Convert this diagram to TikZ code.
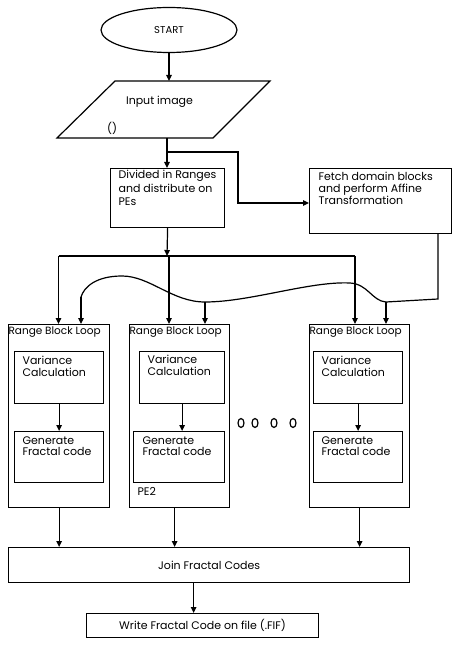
\documentclass[tikz,border=0pt]{standalone}
\usepackage{fontspec}
\setmainfont{Poppins}
\usetikzlibrary{shapes.geometric,arrows.meta}

\tikzset{
  block/.style={draw, anchor=north west, inner sep=0pt},
  intext/.style={anchor=north west, align=left, inner sep=0pt},
  looptitle/.style={anchor=north west, inner sep=0pt, font=\fontsize{10.5}{12}\selectfont},
  arr/.style={-{Triangle[length=6pt,width=5.5pt]}},
  dot/.style={draw, ellipse, minimum width=6pt, minimum height=9pt, inner sep=0pt},
}

\begin{document}
\begin{tikzpicture}[x=1pt, y=-1pt, font=\fontsize{11}{12}\selectfont, line width=1.2pt]
  \useasboundingbox (0,0) rectangle (458,647);

  \node[draw, ellipse, minimum width=136pt, minimum height=45pt, inner sep=0pt, font=\fontsize{10}{12}\selectfont] (start) at (169,30) {START};

  % parallelogramme
  \coordinate (inputtop) at (168,81);
  \coordinate (inputbot) at (167,138);
  \draw (57,138) -- (115,81) -- (270,81) -- (213,138) -- cycle;
  \node[inner sep=0pt] (inputtxt) at (159.5,102) {Input image};
  \node[inner sep=0pt] (inputarg) at (112,128) {()};

  \node[block, minimum width=114pt, minimum height=59pt] (divide) at (110,168) {};
  \node[intext, font=\fontsize{11}{13.5}\selectfont] (dividetxt) at ([shift={(8,2)}]divide.north west) {Divided in Ranges\\and distribute on\\PEs};
  \node[block, minimum width=142pt, minimum height=65pt] (fetch) at (309,168) {};
  \node[intext] (fetchtxt) at ([shift={(9,4)}]fetch.north west) {Fetch domain blocks\\and perform Affine\\Transformation};

  % boucles de blocs
  \node[block, minimum width=101pt, minimum height=183pt] (range1) at (8,324) {};
  \node[block, minimum width=100pt, minimum height=183pt] (range2) at (129,324) {};
  \node[block, minimum width=100pt, minimum height=183pt] (range3) at (309,324) {};
  \node[looptitle] (title1) at ([shift={(0,2)}]range1.north west) {Range Block Loop};
  \node[looptitle] (title2) at ([shift={(0,2)}]range2.north west) {Range Block Loop};
  \node[looptitle] (title3) at ([shift={(0,2)}]range3.north west) {Range Block Loop};

  \node[block, minimum width=89pt, minimum height=52pt] (var1) at (14,351) {};
  \node[block, minimum width=85pt, minimum height=52pt] (var2) at (139,351) {};
  \node[block, minimum width=89pt, minimum height=52pt] (var3) at (313,351) {};
  \node[intext] (vartxt1) at ([shift={(8,5)}]var1.north west) {Variance\\Calculation};
  \node[intext] (vartxt2) at ([shift={(8,4)}]var2.north west) {Variance\\Calculation};
  \node[intext] (vartxt3) at ([shift={(8,5)}]var3.north west) {Variance\\Calculation};

  \node[block, minimum width=89pt, minimum height=51pt] (gen1) at (14,431) {};
  \node[block, minimum width=91pt, minimum height=51pt] (gen2) at (133,431) {};
  \node[block, minimum width=89pt, minimum height=51pt] (gen3) at (313,431) {};
  \node[intext, font=\fontsize{11}{11}\selectfont] (gentxt1) at ([shift={(8,5)}]gen1.north west) {Generate\\Fractal code};
  \node[intext, font=\fontsize{11}{11}\selectfont] (gentxt2) at ([shift={(9,5)}]gen2.north west) {Generate\\Fractal code};
  \node[intext, font=\fontsize{11}{11}\selectfont] (gentxt3) at ([shift={(8,5)}]gen3.north west) {Generate\\Fractal code};

  \node[anchor=west, inner sep=0pt] (pe2) at (137,491) {PE2};

  \node[dot] (dot1) at (241,423) {};
  \node[dot] (dot2) at (255,423) {};
  \node[dot] (dot3) at (274,423) {};
  \node[dot] (dot4) at (293,423) {};

  \node[block, minimum width=401pt, minimum height=35pt] (join) at (8,547) {Join Fractal Codes};
  \node[block, minimum width=232pt, minimum height=24pt] (write) at (86,613) {Write Fractal Code on file (.FIF)};

  % liaisons
  \coordinate (split) at (167,152);
  \coordinate (bend) at (238,203);
  \coordinate (bus) at (167,256);
  \coordinate (busL) at (58.5,256);
  \coordinate (busM) at (169,256);
  \coordinate (busR) at (355,256);
  \coordinate (waveE) at (438,299);
  \coordinate (waveR) at (386,302);
  \coordinate (waveM) at (205,302);
  \coordinate (waveL) at (81,297);

  \draw[arr] (start.south) -- (start.south |- inputtop);
  \draw[arr] (inputbot) -- (inputbot |- divide.north);
  \draw[arr] (split) -| (bend) -- (bend -| fetch.west);
  \draw[arr] (divide.south) -- (bus);

  \draw (busL) -- (busR);
  \draw[arr] (busL) -- (busL |- range1.north);
  \draw[arr] (busM) -- (busM |- range2.north);
  \draw[arr] (busR) -- (busR |- range3.north);

  \draw (fetch.south -| waveE) -- (waveE) -- (waveR)
    .. controls (372,301) and (368,284) .. (350,283)
    .. controls (310,281) and (250,302) .. (waveM)
    .. controls (172,302) and (150,276) .. (122,276)
    .. controls (96,276) and (84,287) .. (waveL);
  \draw[arr] (waveR) -- (waveR |- range3.north);
  \draw[arr] (waveM) -- (waveM |- range2.north);
  \draw[arr] (waveL) -- (waveL |- range1.north);

  \draw[arr] (var1.south) -- (var1.south |- gen1.north);
  \draw[arr] (var2.south) -- (var2.south |- gen2.north);
  \draw[arr] (var3.south) -- (var3.south |- gen3.north);

  \draw[arr] (range1.south) -- (range1.south |- join.north);
  \draw[arr] ([xshift=-5pt]range2.south) -- ([xshift=-5pt]range2.south |- join.north);
  \draw[arr] (range3.south) -- (range3.south |- join.north);

  \draw[arr] ([xshift=-15.5pt]join.south) -- ([xshift=-15.5pt]join.south |- write.north);

\end{tikzpicture}
\end{document}
